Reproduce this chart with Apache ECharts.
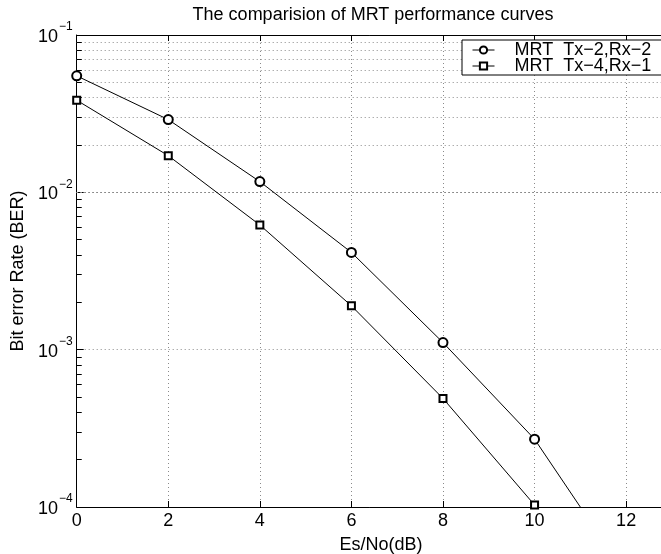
<!DOCTYPE html>
<html>
<head>
<meta charset="utf-8">
<title>MRT BER curves</title>
<script src="https://cdn.jsdelivr.net/npm/echarts@6/dist/echarts.min.js"></script>
<style>
  html, body { margin: 0; padding: 0; background: #fff; }
  #chart { width: 661px; height: 554px; }
</style>
</head>
<body>
<div id="chart"></div>
<script>
// Es/No in dB
const snrDb = [0, 2, 4, 6, 8, 10, 12];
// Bit error rate, MRT with 2 transmit / 2 receive antennas
const berTx2Rx2 = [0.055, 0.029, 0.0117, 0.00415, 0.00111, 0.00027, 0.000037];
// Bit error rate, MRT with 4 transmit / 1 receive antenna
const berTx4Rx1 = [0.0385, 0.0171, 0.0062, 0.0019, 0.00049, 0.000103, 0.000015];

const seriesNames = ['MRT  Tx\u22122,Rx\u22122', 'MRT  Tx\u22124,Rx\u22121'];
const xTicks = [0, 2, 4, 6, 8, 10, 12, 14];
const decades = [1e-4, 1e-3, 1e-2, 1e-1];

const FONT = 'Liberation Sans';
const FS = 18;

// minor (2..9 x decade) values for the dotted log grid
const minorValues = [];
for (let d = 0; d < decades.length - 1; d++) {
  for (let k = 2; k <= 9; k++) minorValues.push(+(decades[d] * k).toPrecision(3));
}

const gridLines = minorValues.map(v => ({ yAxis: v }));
// short inward tick marks on the left axis at the minor values
const minorTickMarks = minorValues.map(v => [
  { coord: [xTicks[0], v] },
  { coord: [xTicks[0] + 0.11, v] }
]);

const chart = echarts.init(document.getElementById('chart'), null, { renderer: 'canvas' });

const axisLineStyle = { color: '#000', width: 1 };
const dotted = { color: '#8a8a8a', type: [1, 3], width: 1 };

chart.setOption({
  animation: false,
  backgroundColor: '#fff',
  textStyle: { fontFamily: FONT },
  title: [
    {
      text: 'The comparision of MRT performance curves',
      left: 368, top: 1, textAlign: 'center',
      textStyle: { fontFamily: FONT, fontSize: FS, fontWeight: 'normal', color: '#000' }
    },
    {
      text: 'Es/No(dB)',
      left: 376, top: 531, textAlign: 'center',
      textStyle: { fontFamily: FONT, fontSize: FS, fontWeight: 'normal', color: '#000' }
    }
  ],
  legend: {
    orient: 'vertical',
    left: 462, top: 40,
    padding: [1, 30, 0, 10],
    itemGap: -2,
    itemWidth: 22, itemHeight: 9,
    backgroundColor: '#fff',
    borderColor: '#000', borderWidth: 1,
    lineStyle: { width: 1 },
    itemStyle: { borderWidth: 1 },
    textStyle: { fontFamily: FONT, fontSize: FS, color: '#000', padding: [0, 0, 0, 15] },
    data: seriesNames
  },
  grid: { left: 76.7, top: 35, width: 641, bottom: 47, outerBoundsMode: 'none', containLabel: false },
  xAxis: [
    {
      type: 'value', min: 0, max: 14, interval: 2,
      axisLine: { lineStyle: axisLineStyle },
      axisTick: { inside: true, length: 6, lineStyle: axisLineStyle },
      axisLabel: { fontFamily: FONT, fontSize: FS, color: '#000', margin: 5 },
      splitLine: { show: true, lineStyle: dotted }
    },
    {
      type: 'value', min: 0, max: 14, interval: 2, position: 'top',
      axisLine: { lineStyle: axisLineStyle },
      axisTick: { inside: true, length: 6, lineStyle: axisLineStyle },
      axisLabel: { show: false },
      splitLine: { show: false }
    }
  ],
  yAxis: {
    type: 'log', logBase: 10, min: decades[0], max: decades[decades.length - 1],
    name: 'Bit error Rate (BER)', nameLocation: 'middle', nameGap: 50,
    nameTextStyle: { fontFamily: FONT, fontSize: FS, color: '#000' },
    axisLine: { lineStyle: axisLineStyle },
    axisTick: { inside: true, length: 7, lineStyle: axisLineStyle },
    axisLabel: {
      margin: 4,
      formatter: v => '{b|10}{e|\u2212' + Math.round(-Math.log10(v)) + '}',
      rich: {
        b: { fontFamily: FONT, fontSize: FS, color: '#000', lineHeight: 28, padding: [4, 0, 0, 0] },
        e: { fontFamily: FONT, fontSize: 12, color: '#000', verticalAlign: 'top', lineHeight: 12, padding: [0, 0, 0, 1] }
      }
    },
    splitLine: { show: true, lineStyle: dotted }
  },
  series: [
    {
      name: seriesNames[0],
      type: 'line',
      data: snrDb.map((x, i) => [x, berTx2Rx2[i]]),
      symbol: 'emptyCircle', symbolSize: 9,
      clip: true,
      lineStyle: { color: '#000', width: 1 },
      itemStyle: { color: '#000', borderColor: '#000', borderWidth: 1 },
      z: 5,
      markLine: {
        silent: true, symbol: ['none', 'none'], label: { show: false },
        lineStyle: dotted,
        emphasis: { disabled: true },
        data: gridLines,
        z: 1
      }
    },
    {
      name: seriesNames[1],
      type: 'line',
      data: snrDb.map((x, i) => [x, berTx4Rx1[i]]),
      symbol: 'emptyRect', symbolSize: 7,
      clip: true,
      lineStyle: { color: '#000', width: 1 },
      itemStyle: { color: '#000', borderColor: '#000', borderWidth: 1 },
      z: 5,
      markLine: {
        silent: true, symbol: ['none', 'none'], label: { show: false },
        lineStyle: { color: '#000', type: 'solid', width: 1 },
        emphasis: { disabled: true },
        data: minorTickMarks
      }
    }
  ]
});
</script>
</body>
</html>
